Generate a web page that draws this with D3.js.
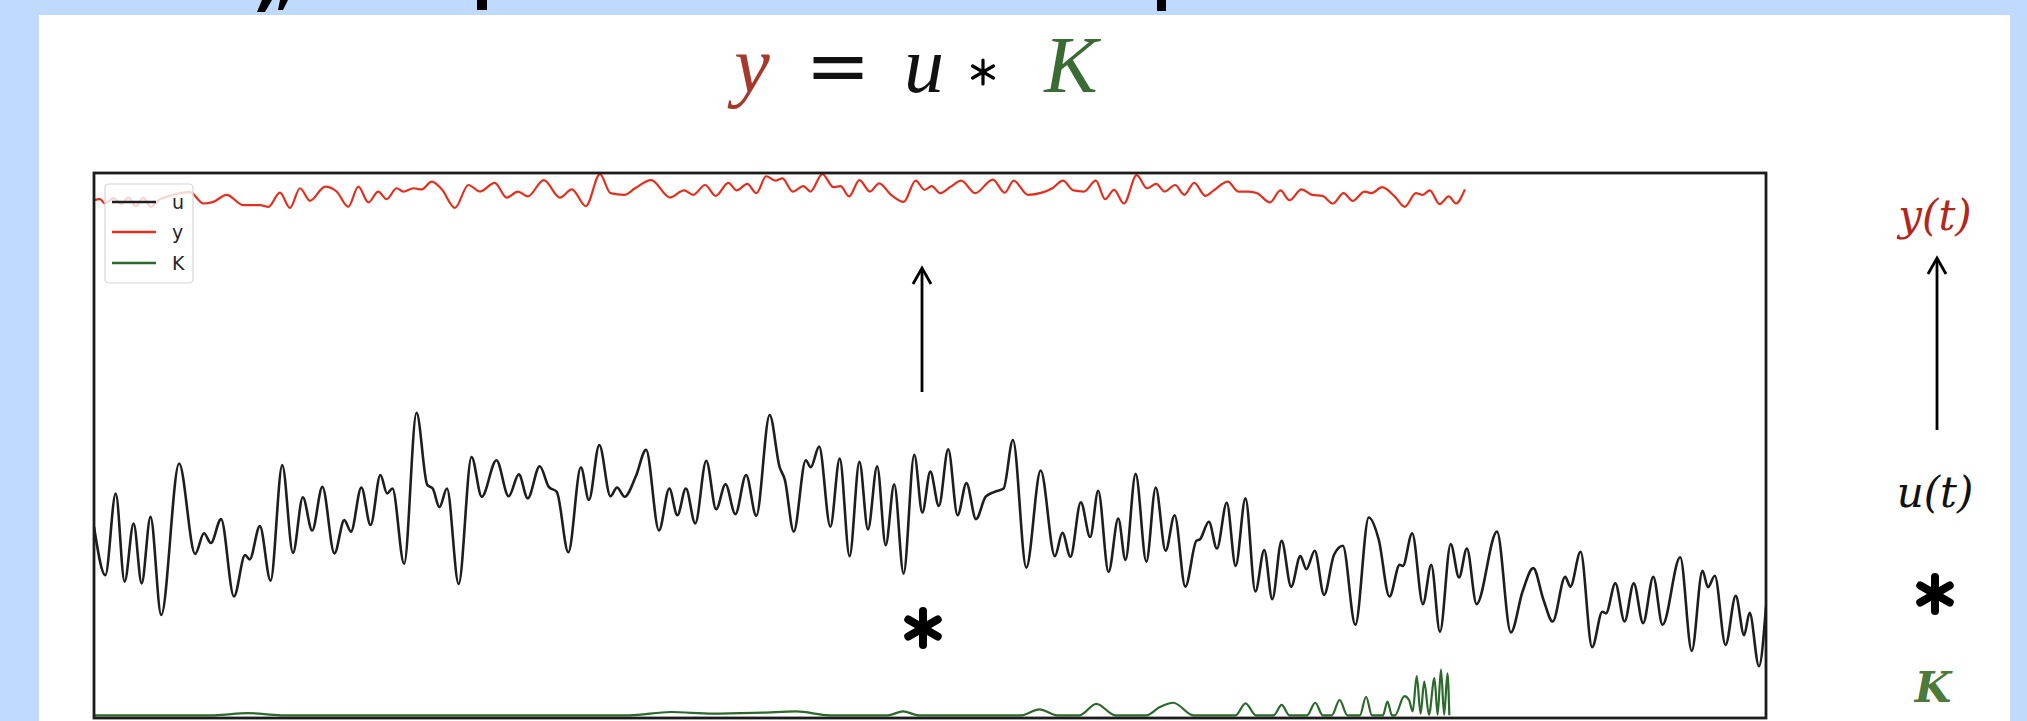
<!DOCTYPE html>
<html>
<head>
<meta charset="utf-8">
<script src="https://cdn.jsdelivr.net/npm/d3@7"></script>
<style>
  html, body { margin: 0; padding: 0; background: #c0dafe; }
  svg { display: block; }
</style>
</head>
<body>
<svg id="chart" width="2027" height="721"></svg>
<script>
// ---- data: time positions (t) and signal values (v) ----
// u(t): input signal
const uT = [0,0.68,1.30,1.83,2.37,2.85,3.38,4.02,5.09,6.05,6.58,6.99,7.60,8.37,9.04,9.31,9.92,10.56,11.26,11.90,12.49,13.05,13.66,14.38,14.97,15.37,15.99,16.54,17.13,17.53,17.85,18.55,19.29,19.93,20.26,20.66,21.11,21.81,22.58,23.19,24.07,24.80,25.41,25.94,26.66,27.20,27.68,28.37,29.12,29.60,30.22,30.89,31.28,31.74,32.40,33.02,33.79,34.41,34.89,35.40,35.96,36.62,37.21,37.77,38.36,39.00,39.61,40.41,
  41.00,41.32,41.85,42.57,42.87,43.37,44.04,44.60,45.19,45.78,46.29,46.84,47.35,47.86,48.42,49.06,49.54,50.02,50.53,51.09,51.65,52.18,52.75,53.33,53.86,54.40,54.96,55.76,56.62,57.47,57.92,58.40,59.02,59.58,60.06,60.68,61.26,61.69,62.30,62.94,63.50,64.09,64.63,65.27,65.93,66.15,66.68,67.16,67.75,68.28,68.87,69.46,69.99,70.47,71.03,71.60,72.15,72.51,73.01,73.57,74.16,74.69,75.44,76.24,
  76.84,77.48,78.09,78.28,78.84,79.48,79.98,80.50,81.14,81.64,82.11,82.69,83.91,84.74,85.44,86.08,86.69,87.24,87.99,88.30,88.91,89.60,90.21,90.43,90.99,91.54,92.09,92.65,93.26,93.81,94.87,95.56,96.20,96.53,96.94,97.58,98.19,98.69,99.02,99.58,100];
const uV = [3.51,2.62,4.12,2.50,3.57,2.47,3.69,1.89,4.67,3.01,3.39,3.21,3.65,2.23,2.99,2.91,3.52,2.52,4.64,3.03,4.05,3.44,4.24,3.02,3.63,3.42,4.23,3.54,4.46,4.12,4.21,2.83,5.60,4.28,4.21,3.87,4.21,2.46,4.79,4.06,4.73,4.07,4.47,4.03,4.62,4.24,4.15,3.04,4.60,4.00,5.01,4.07,4.23,4.06,4.43,4.92,3.44,4.21,3.72,4.21,3.57,4.72,3.83,4.29,3.74,4.46,3.71,5.56,
  4.61,4.37,3.42,4.73,4.60,4.98,3.51,4.76,2.97,4.70,3.46,4.62,3.17,4.29,2.65,4.83,3.77,4.52,3.89,4.93,3.72,4.31,3.65,4.06,4.15,4.21,5.10,2.76,4.54,2.97,3.40,2.96,3.96,3.32,4.17,2.68,3.66,2.90,4.48,2.87,4.23,3.07,3.72,2.41,3.25,3.28,3.60,3.11,3.95,2.79,4.03,2.32,3.08,2.18,3.25,2.41,2.97,2.73,3.07,2.26,2.99,3.16,1.71,3.68,
  3.27,2.23,2.81,2.79,3.39,2.09,2.81,1.58,3.19,2.58,3.11,2.09,3.42,1.57,2.32,2.75,2.17,1.77,2.59,2.41,3.05,1.30,1.95,1.92,2.47,1.77,2.47,1.74,2.59,1.71,2.95,1.23,2.70,2.40,2.61,1.34,2.24,1.52,1.93,0.95,2.04];

// y(t): output signal
const yT = [0,0.36,0.66,1.16,1.66,2.05,2.51,2.95,3.39,3.95,4.55,5.14,5.74,6.54,7.14,7.93,8.93,9.93,10.43,11.12,11.72,12.32,12.92,13.82,14.51,15.21,15.81,16.41,17.00,17.50,18.10,18.50,19.10,19.60,20.20,20.80,21.59,22.39,23.09,
  23.97,24.68,25.35,25.94,26.90,27.87,28.58,29.42,30.26,30.89,31.73,32.36,33.32,34.46,35.29,35.84,36.55,37.18,37.94,38.44,39.07,39.62,40.20,40.75,41.17,41.79,42.43,42.85,43.56,44.23,44.65,45.16,45.78,46.41,46.96,47.67,48.43,49.14,49.68,50.10,50.61,51.24,51.87,52.70,53.76,54.47,55.01,55.85,56.69,57.32,57.95,58.58,59.21,59.92,60.47,61.01,61.60,62.36,62.98,63.53,64.03,64.66,65.21,65.80,66.47,66.97,67.81,68.44,69.07,69.57,70.33,70.96,71.50,72.22,72.85,73.47,74.10,74.73,75.28,75.99,76.41,77.04,77.79,78.39,79.06,79.47,79.89,80.48,81.03,81.45,81.99];
const yV = [9.50,9.52,9.44,9.54,9.43,9.55,9.39,9.55,9.38,9.52,9.58,9.63,9.65,9.44,9.47,9.60,9.41,9.41,9.38,9.64,9.36,9.72,9.49,9.75,9.66,9.38,9.75,9.46,9.66,9.52,9.72,9.66,9.72,9.70,9.84,9.70,9.36,9.78,9.66,
  9.82,9.55,9.66,9.57,9.87,9.55,9.70,9.39,9.98,9.63,9.60,9.72,9.87,9.55,9.68,9.60,9.78,9.58,9.82,9.68,9.80,9.63,9.94,9.86,9.90,9.66,9.76,9.66,9.98,9.74,9.76,9.57,9.87,9.66,9.81,9.60,9.47,9.86,9.69,9.76,9.63,9.75,9.86,9.63,9.88,9.64,9.86,9.60,9.64,9.72,9.86,9.68,9.66,9.86,9.52,9.69,9.44,9.96,9.72,9.80,9.66,9.78,9.60,9.82,9.58,9.68,9.84,9.66,9.66,9.63,9.46,9.68,9.50,9.70,9.60,9.58,9.44,9.63,9.49,9.66,9.63,9.74,9.57,9.38,9.63,9.60,9.68,9.43,9.57,9.44,9.70];

// K: kernel
const kT = [0,7.2,9.2,11.2,32.0,34.5,37.0,40.0,42.0,44.0,47.46,48.39,49.33,55.47,56.54,57.60,58.94,59.95,61.08,62.94,63.74,64.55,65.75,68.28,68.87,69.49,70.56,71.03,71.49,72.55,73.04,73.49,74.03,74.50,74.96,75.71,76.08,76.43,77.09,77.36,77.63,77.81,78.37,78.65,78.87,79.11,79.34,79.56,79.84,80.17,80.36,80.56,80.75,80.95,81.06];
const kV = [0.05,0.05,0.09,0.05,0.05,0.11,0.08,0.10,0.12,0.05,0.05,0.12,0.05,0.05,0.16,0.05,0.05,0.26,0.05,0.05,0.20,0.28,0.05,0.05,0.27,0.05,0.05,0.24,0.05,0.05,0.28,0.05,0.05,0.33,0.05,0.05,0.39,0.05,0.05,0.30,0.05,0.05,0.40,0.33,0.12,0.77,0.08,0.67,0.06,0.73,0.06,0.89,0.06,0.82,0.05];

const seriesNames = ["u", "y", "K"];
const seriesColors = ["#1e1e1e", "#e2301f", "#2a6a2a"];
const sideLabels = ["y(t)", "u(t)", "K"];

// ---- layout ----
const svg = d3.select("#chart");
const plot = { left: 94, top: 173, right: 1766, bottom: 718 };

// slide background
svg.append("rect").attr("x", 0).attr("y", 0).attr("width", 2027).attr("height", 721).attr("fill", "#c0dafe");
svg.append("rect").attr("x", 39).attr("y", 15).attr("width", 1971).attr("height", 706).attr("fill", "#ffffff");

// bottom tips of the heading glyphs, cut off by the slide edge
const tips = svg.append("g").attr("fill", "#000");
tips.append("path").attr("d", "M262,0 L272,0 L265,12 L257,12 Z");
tips.append("path").attr("d", "M280,0 L288,0 L283,10 L278,10 Z");
tips.append("rect").attr("x", 477).attr("y", 0).attr("width", 10).attr("height", 10);
tips.append("rect").attr("x", 1157).attr("y", 0).attr("width", 9).attr("height", 11);

// equation y = u * K
const eq = svg.append("g");
const eqSerif = "Liberation Serif, Times New Roman, serif";
eq.append("text").attr("x", 752).attr("y", 92).attr("text-anchor", "middle")
  .attr("font-family", eqSerif).attr("font-style", "italic").attr("font-size", 80)
  .attr("fill", "#a5392b").text("y");
eq.append("text").attr("x", 838).attr("y", 93).attr("text-anchor", "middle")
  .attr("font-family", "DejaVu Serif, serif").attr("font-size", 78)
  .attr("fill", "#111").text("=");
eq.append("text").attr("x", 924).attr("y", 92).attr("text-anchor", "middle")
  .attr("font-family", eqSerif).attr("font-style", "italic").attr("font-size", 80)
  .attr("fill", "#111").text("u");
eq.append("text").attr("x", 1071).attr("y", 92).attr("text-anchor", "middle")
  .attr("font-family", eqSerif).attr("font-style", "italic").attr("font-size", 80)
  .attr("fill", "#3a6b35").text("K");

// asterisk drawn as three crossing strokes
function asterisk(g, cx, cy, r, w) {
  [90, 30, 150].forEach(a => {
    const rad = a * Math.PI / 180;
    g.append("line")
      .attr("x1", cx - r * Math.cos(rad)).attr("y1", cy - r * Math.sin(rad))
      .attr("x2", cx + r * Math.cos(rad)).attr("y2", cy + r * Math.sin(rad))
      .attr("stroke", "#000").attr("stroke-width", w).attr("stroke-linecap", "round");
  });
}
asterisk(eq, 983, 72, 12, 3.2);

// up arrow with an open head
function upArrow(g, x, yTip, yBase) {
  g.append("line").attr("x1", x).attr("y1", yBase).attr("x2", x).attr("y2", yTip + 1)
    .attr("stroke", "#000").attr("stroke-width", 2.8);
  g.append("path")
    .attr("d", `M${x - 9},${yTip + 16} L${x},${yTip} L${x + 9},${yTip + 16}`)
    .attr("fill", "none").attr("stroke", "#000").attr("stroke-width", 2.8)
    .attr("stroke-linejoin", "miter");
}

// ---- scales ----
const x = d3.scaleLinear().domain([0, 100]).range([plot.left, plot.right]);
const y = d3.scaleLinear().domain([0, 10]).range([plot.bottom, plot.top]);

svg.append("defs").append("clipPath").attr("id", "plotClip")
  .append("rect").attr("x", plot.left).attr("y", plot.top)
  .attr("width", plot.right - plot.left).attr("height", plot.bottom - plot.top);

const line = d3.line().x(d => x(d[0])).y(d => y(d[1])).curve(d3.curveMonotoneX);

const series = [d3.zip(uT, uV), d3.zip(yT, yV), d3.zip(kT, kV)];
const widths = [2.6, 2.2, 2.2];

const lines = svg.append("g").attr("clip-path", "url(#plotClip)");
series.forEach((s, i) => {
  lines.append("path").datum(s)
    .attr("d", line)
    .attr("fill", "none")
    .attr("stroke", seriesColors[i])
    .attr("stroke-width", widths[i])
    .attr("stroke-linejoin", "round");
});

// arrow and asterisk inside the plot
const annot = svg.append("g");
upArrow(annot, 922, 268, 392);
asterisk(annot, 923, 628, 17, 8);

// legend
const lg = svg.append("g");
lg.append("rect").attr("x", 105).attr("y", 184).attr("width", 88).attr("height", 99)
  .attr("rx", 4).attr("fill", "#fff").attr("fill-opacity", 0.8)
  .attr("stroke", "#d6d6d6").attr("stroke-width", 1.2);
const rowY = [202, 232, 263];
seriesNames.forEach((name, i) => {
  lg.append("line").attr("x1", 112).attr("x2", 156).attr("y1", rowY[i]).attr("y2", rowY[i])
    .attr("stroke", seriesColors[i]).attr("stroke-width", 2.4);
  lg.append("text").attr("x", 172).attr("y", rowY[i]).attr("dy", "0.36em")
    .attr("font-family", "DejaVu Sans, sans-serif").attr("font-size", 19)
    .attr("fill", "#262626").text(name);
});

// frame
svg.append("rect").attr("x", plot.left).attr("y", plot.top)
  .attr("width", plot.right - plot.left).attr("height", plot.bottom - plot.top)
  .attr("fill", "none").attr("stroke", "#1c1c1c").attr("stroke-width", 2.8);

// side labels
const side = svg.append("g");
const sideFont = "DejaVu Serif, serif";
side.append("text").attr("x", 1935).attr("y", 230).attr("text-anchor", "middle")
  .attr("font-family", sideFont).attr("font-style", "italic").attr("font-size", 42)
  .attr("fill", "#b3261b").text(sideLabels[0]);
upArrow(side, 1937, 258, 430);
side.append("text").attr("x", 1935).attr("y", 507).attr("text-anchor", "middle")
  .attr("font-family", sideFont).attr("font-style", "italic").attr("font-size", 42)
  .attr("fill", "#111").text(sideLabels[1]);
asterisk(side, 1935, 594, 17, 8);
side.append("text").attr("x", 1933).attr("y", 702).attr("text-anchor", "middle")
  .attr("font-family", sideFont).attr("font-style", "italic").attr("font-weight", "bold")
  .attr("font-size", 42).attr("fill", "#4d7a3b").text(sideLabels[2]);
</script>
</body>
</html>
